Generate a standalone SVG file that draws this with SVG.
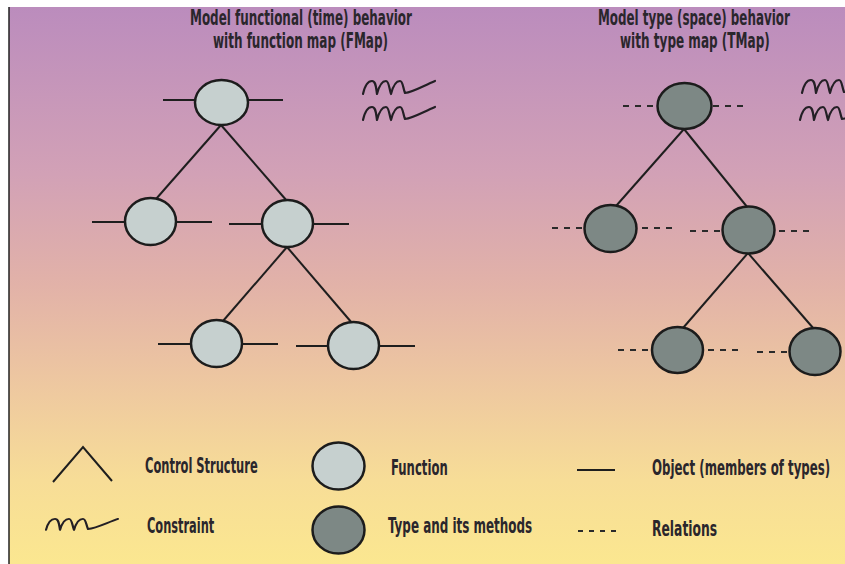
<svg xmlns="http://www.w3.org/2000/svg" width="845" height="564" viewBox="0 0 845 564">
  <defs>
    <linearGradient id="bg" x1="0" y1="0" x2="0" y2="1">
      <stop offset="0" stop-color="#bb8cbd"/>
      <stop offset="0.3" stop-color="#d2a1b6"/>
      <stop offset="0.5" stop-color="#e2b2a8"/>
      <stop offset="0.68" stop-color="#eec8a0"/>
      <stop offset="0.85" stop-color="#f7dd97"/>
      <stop offset="1" stop-color="#fbe790"/>
    </linearGradient>
    <path id="sq" d="M0 14 C2 5 5 1 9 1 C13 1 13 8 14 14 C16 6 19 1 23 1 C26 1 26 8 28 14 C30 6 33 1 37 1 C40 1 40 8 42 13 C50 12 60 6 72 1"/>
  </defs>
  <style>
    .fn { fill: #c6d0cf; stroke: #1c1c1c; stroke-width: 2.5; }
    .ty { fill: #7d8885; stroke: #1c1c1c; stroke-width: 2.5; }
    .obj { stroke: #1e1e1e; stroke-width: 2; fill: none; }
    .rel { stroke: #2a2a2a; stroke-width: 2.2; stroke-dasharray: 6 6; fill: none; }
    .edge { stroke: #1e1e1e; stroke-width: 2; fill: none; }
    .sq { stroke: #231f25; stroke-width: 2.2; fill: none; stroke-linecap: round; stroke-linejoin: round; }
    .t { font-family: 'Liberation Sans Narrow', 'DejaVu Sans Condensed', 'Liberation Sans', sans-serif; font-weight: bold; fill: #2a262c; }
    .title { font-size: 21px; }
    .leg { font-size: 21px; }
  </style>

  <rect x="0" y="0" width="845" height="564" fill="#ffffff"/>
  <rect x="9" y="7" width="836" height="557" fill="url(#bg)"/>
  <line x1="9" y1="7" x2="9" y2="564" stroke="#222" stroke-width="1.5"/>

  <g id="titles">
    <text class="t title" transform="translate(190 25) scale(0.7 1)" x="0" y="0" textLength="317" lengthAdjust="spacingAndGlyphs">Model functional (time) behavior</text>
    <text class="t title" transform="translate(213 48) scale(0.7 1)" x="0" y="0" textLength="250" lengthAdjust="spacingAndGlyphs">with function map (FMap)</text>
    <text class="t title" transform="translate(598 25) scale(0.7 1)" x="0" y="0" textLength="274" lengthAdjust="spacingAndGlyphs">Model type (space) behavior</text>
    <text class="t title" transform="translate(620 48) scale(0.7 1)" x="0" y="0" textLength="214" lengthAdjust="spacingAndGlyphs">with type map (TMap)</text>
  </g>

  <g id="connectors">
    <line class="edge" x1="221" y1="125" x2="156" y2="199"/>
    <line class="edge" x1="221" y1="125" x2="287" y2="201"/>
    <line class="edge" x1="287" y1="247" x2="223" y2="321"/>
    <line class="edge" x1="287" y1="247" x2="352" y2="323"/>
    <line class="edge" x1="684" y1="129" x2="616" y2="206"/>
    <line class="edge" x1="684" y1="129" x2="748" y2="208"/>
    <line class="edge" x1="748" y1="253" x2="683" y2="328"/>
    <line class="edge" x1="748" y1="253" x2="814" y2="329"/>
  </g>

  <g id="constraints">
    <use href="#sq" class="sq" transform="translate(363 80)"/>
    <use href="#sq" class="sq" transform="translate(363 106)"/>
    <use href="#sq" class="sq" transform="translate(802 79)"/>
    <use href="#sq" class="sq" transform="translate(800 106)"/>
  </g>

  <g id="f-root">
    <line class="obj" x1="163" y1="100" x2="195" y2="100"/>
    <line class="obj" x1="248" y1="100" x2="283" y2="100"/>
    <ellipse class="fn" cx="221.5" cy="102.5" rx="26.5" ry="22.5"/>
  </g>
  <g id="f-left">
    <line class="obj" x1="92" y1="222" x2="125" y2="222"/>
    <line class="obj" x1="176" y1="222" x2="212" y2="222"/>
    <ellipse class="fn" cx="150.5" cy="221.5" rx="25.5" ry="23.5"/>
  </g>
  <g id="f-right">
    <line class="obj" x1="229" y1="224" x2="262" y2="224"/>
    <line class="obj" x1="313" y1="224" x2="349" y2="224"/>
    <ellipse class="fn" cx="287.5" cy="223.5" rx="25.5" ry="23.5"/>
  </g>
  <g id="f-gc-left">
    <line class="obj" x1="158" y1="344" x2="191" y2="344"/>
    <line class="obj" x1="242" y1="344" x2="278" y2="344"/>
    <ellipse class="fn" cx="216.5" cy="343.5" rx="25.5" ry="23.5"/>
  </g>
  <g id="f-gc-right">
    <line class="obj" x1="296" y1="346" x2="328" y2="346"/>
    <line class="obj" x1="379" y1="346" x2="415" y2="346"/>
    <ellipse class="fn" cx="353.5" cy="345.5" rx="25.5" ry="23.5"/>
  </g>

  <g id="t-root">
    <line class="rel" x1="623" y1="106" x2="653" y2="106"/>
    <line class="rel" x1="713" y1="106" x2="743" y2="106"/>
    <ellipse class="ty" cx="684.5" cy="106" rx="27" ry="23"/>
  </g>
  <g id="t-left">
    <line class="rel" x1="552" y1="228" x2="582" y2="228"/>
    <line class="rel" x1="642" y1="228" x2="672" y2="228"/>
    <ellipse class="ty" cx="610.5" cy="228.5" rx="26" ry="23.5"/>
  </g>
  <g id="t-right">
    <line class="rel" x1="690" y1="231" x2="720" y2="231"/>
    <line class="rel" x1="779" y1="231" x2="809" y2="231"/>
    <ellipse class="ty" cx="748.5" cy="230" rx="26" ry="23.5"/>
  </g>
  <g id="t-gc-left">
    <line class="rel" x1="618" y1="350" x2="648" y2="350"/>
    <line class="rel" x1="708" y1="350" x2="738" y2="350"/>
    <ellipse class="ty" cx="677.5" cy="350" rx="25.5" ry="23"/>
  </g>
  <g id="t-gc-right">
    <line class="rel" x1="757" y1="352" x2="787" y2="352"/>
    <ellipse class="ty" cx="815" cy="351.5" rx="25.5" ry="23.5"/>
  </g>

  <g id="legend">
    <polyline class="edge" points="53,482 83,447 112,481"/>
    <text class="t leg" transform="translate(145 473) scale(0.7 1)" x="0" y="0" textLength="161" lengthAdjust="spacingAndGlyphs">Control Structure</text>
    <use href="#sq" class="sq" transform="translate(46 518) scale(1 0.85)"/>
    <text class="t leg" transform="translate(147 533) scale(0.7 1)" x="0" y="0" textLength="96" lengthAdjust="spacingAndGlyphs">Constraint</text>
    <ellipse class="fn" cx="338.5" cy="466" rx="26" ry="23.5"/>
    <text class="t leg" transform="translate(391 475) scale(0.7 1)" x="0" y="0" textLength="81" lengthAdjust="spacingAndGlyphs">Function</text>
    <ellipse class="ty" cx="338.5" cy="530" rx="26" ry="23.5"/>
    <text class="t leg" transform="translate(388 533) scale(0.7 1)" x="0" y="0" textLength="206" lengthAdjust="spacingAndGlyphs">Type and its methods</text>
    <line class="obj" x1="577" y1="470" x2="615" y2="470"/>
    <text class="t leg" transform="translate(652 475) scale(0.6 1)" x="0" y="0" textLength="297" lengthAdjust="spacingAndGlyphs">Object (members of types)</text>
    <line class="rel" x1="578" y1="531" x2="616" y2="531" style="stroke-dasharray: 5 6"/>
    <text class="t leg" transform="translate(652 536) scale(0.7 1)" x="0" y="0" textLength="93" lengthAdjust="spacingAndGlyphs">Relations</text>
  </g>
</svg>
